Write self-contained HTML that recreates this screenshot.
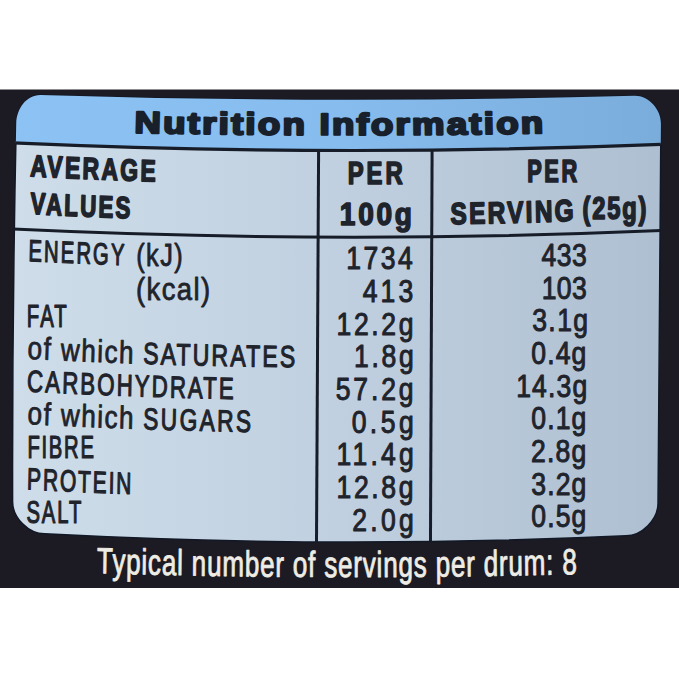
<!DOCTYPE html>
<html><head><meta charset="utf-8"><style>html,body{margin:0;padding:0;background:#fff;width:679px;height:679px;overflow:hidden}svg{display:block}</style></head>
<body>
<svg width="679" height="679" viewBox="0 0 679 679">
<defs>
<linearGradient id="gp" x1="0" y1="0" x2="1" y2="0">
<stop offset="0" stop-color="rgb(206,221,233)"/><stop offset="0.5" stop-color="rgb(192,208,224)"/><stop offset="1" stop-color="rgb(174,191,209)"/>
</linearGradient>
<linearGradient id="gh" x1="0" y1="0" x2="1" y2="0">
<stop offset="0" stop-color="rgb(140,195,244)"/><stop offset="0.5" stop-color="rgb(134,188,238)"/><stop offset="1" stop-color="rgb(122,172,218)"/>
</linearGradient>
<clipPath id="cp"><path d="M16.24 122.88 C16.74 108.88 26.20 94.88 40.20 94.88 Q337.55 104.21 634.90 95.85 C648.90 95.85 661.21 109.85 660.91 123.85 L658.01 503.71 C657.71 519.71 642.00 535.71 626.00 535.71 Q335.30 549.15 44.60 533.86 C28.60 533.86 12.59 517.86 12.59 501.86 Q12.22 312.37 16.24 122.88 Z"/></clipPath>
<path id="tp_title" d="M86.87 131.97 Q282.35 137.48 477.84 132.64"/><path id="tp_avg" d="M-0.12 174.58 Q122.98 179.94 246.07 182.49"/><path id="tp_val" d="M0.51 212.21 Q109.58 216.82 218.65 219.34"/><path id="tp_serv1" d="M522.47 224.54 Q636.38 223.54 750.29 219.81"/><path id="tp_lab0_0" d="M-2.59 259.24 Q114.69 263.76 231.97 266.30"/><path id="tp_lab3_0" d="M-3.46 357.12 Q97.62 361.96 198.70 364.54"/><path id="tp_lab3_1" d="M148.76 362.77 Q288.35 366.93 427.93 367.43"/><path id="tp_lab4_0" d="M-4.26 389.76 Q178.10 397.52 360.47 399.49"/><path id="tp_lab5_0" d="M-3.46 422.42 Q97.62 427.26 198.70 429.84"/><path id="tp_lab5_1" d="M151.10 428.07 Q263.39 431.37 375.67 432.37"/><path id="tp_lab7_0" d="M-4.62 487.70 Q114.76 492.49 234.13 495.08"/><path id="tp_typ" d="M92.71 572.05 Q467.05 581.36 841.39 573.16"/>
</defs>
<rect x="0" y="0" width="679" height="679" fill="#ffffff"/>
<rect x="0" y="89.5" width="679" height="498.5" fill="rgb(28,27,35)"/>
<path d="M16.24 122.88 C16.74 108.88 26.20 94.88 40.20 94.88 Q337.55 104.21 634.90 95.85 C648.90 95.85 661.21 109.85 660.91 123.85 L658.01 503.71 C657.71 519.71 642.00 535.71 626.00 535.71 Q335.30 549.15 44.60 533.86 C28.60 533.86 12.59 517.86 12.59 501.86 Q12.22 312.37 16.24 122.88 Z" fill="url(#gp)" stroke="rgb(18,24,38)" stroke-width="1.5"/>
<g clip-path="url(#cp)">
<path d="M0 0 L679 0 L679 143.63 Q339.50 157.98 0.00 142.35 Z" fill="url(#gh)"/>
<path d="M0.00 142.35 Q339.50 157.98 679.00 143.63" fill="none" stroke="rgb(22,28,40)" stroke-width="3.2"/>
<path d="M0.00 228.43 Q339.50 245.25 679.00 229.81" fill="none" stroke="rgb(22,28,40)" stroke-width="3"/>
<path d="M318.6 150.42 L316.4 560" fill="none" stroke="rgb(22,28,40)" stroke-width="3"/>
<path d="M432.1 150.10 L430.4 560" fill="none" stroke="rgb(22,28,40)" stroke-width="3"/>
</g>
<g font-family='"Liberation Sans", sans-serif'>
<text font-size="30.5" font-weight="bold" fill="#18202c" stroke="#18202c" stroke-width="2.2" stroke-linejoin="round" transform="scale(1.2,1)"><textPath href="#tp_title" startOffset="25.00" textLength="340.97" lengthAdjust="spacing">Nutrition Information</textPath></text>
<text font-size="30.5" font-weight="bold" fill="#1f232b" stroke="#1f232b" stroke-width="1.6693893806202604" stroke-linejoin="round" transform="scale(0.7544330601092896,1)"><textPath href="#tp_avg" startOffset="39.76" textLength="166.66" lengthAdjust="spacing">AVERAGE</textPath></text>
<text font-size="30.5" font-weight="bold" fill="#1f232b" stroke="#1f232b" stroke-width="1.6937941065731403" stroke-linejoin="round" transform="scale(0.7328494556375924,1)"><textPath href="#tp_val" startOffset="40.94" textLength="136.27" lengthAdjust="spacing">VALUES</textPath></text>
<text x="445.02" y="184.06" font-size="30.5" font-weight="bold" fill="#1f232b" stroke="#1f232b" stroke-width="1.640103678096713" stroke-linejoin="round" transform="scale(0.781615925058548,1)" textLength="70.10" lengthAdjust="spacing">PER</text>
<text x="369.67" y="224.86" font-size="30.5" font-weight="bold" fill="#1f232b" stroke="#1f232b" stroke-width="1.5123437993454771" stroke-linejoin="round" transform="scale(0.9192527640106748,1)" textLength="78.46" lengthAdjust="spacing">100g</text>
<text x="737.70" y="181.58" font-size="30.5" font-weight="bold" fill="#1f232b" stroke="#1f232b" stroke-width="1.7152614835437885" stroke-linejoin="round" transform="scale(0.714620274339244,1)" textLength="70.10" lengthAdjust="spacing">PER</text>
<text font-size="30.5" font-weight="bold" fill="#1f232b" stroke="#1f232b" stroke-width="1.6161553608717765" stroke-linejoin="round" transform="scale(0.804951641211397,1)"><textPath href="#tp_serv1" startOffset="37.27" textLength="153.28" lengthAdjust="spacing">SERVING</textPath></text>
<text x="750.55" y="219.37" font-size="30.5" font-weight="bold" fill="#1f232b" stroke="#1f232b" stroke-width="1.6459019922636793" stroke-linejoin="round" transform="scale(0.776118548213901,1)" textLength="82.40" lengthAdjust="spacing">(25g)</text>
<text font-size="30.5" font-weight="normal" fill="#1f232b" stroke="#1f232b" stroke-width="1.2262265869550504" stroke-linejoin="round" transform="scale(0.6650565016711762,1)"><textPath href="#tp_lab0_0" startOffset="45.11" textLength="144.34" lengthAdjust="spacing">ENERGY</textPath></text>
<text x="171.13" y="266.46" font-size="31.8" font-weight="normal" fill="#1f232b" stroke="#1f232b" stroke-width="0.8407560108295142" stroke-linejoin="round" transform="scale(0.7957608429306544,1)" textLength="58.42" lengthAdjust="spacing">(kJ)</text>
<text x="157.75" y="299.53" font-size="31.8" font-weight="normal" fill="#1f232b" stroke="#1f232b" stroke-width="0.8075842755362143" stroke-linejoin="round" transform="scale(0.8624756018217309,1)" textLength="85.93" lengthAdjust="spacing">(kcal)</text>
<text x="40.08" y="327.19" font-size="30.5" font-weight="normal" fill="#1f232b" stroke="#1f232b" stroke-width="1.2235371550231147" stroke-linejoin="round" transform="scale(0.6679834090460203,1)" textLength="59.92" lengthAdjust="spacing">FAT</text>
<text font-size="31.8" font-weight="normal" fill="#1f232b" stroke="#1f232b" stroke-width="0.8268150871904777" stroke-linejoin="round" transform="scale(0.8228217087131651,1)"><textPath href="#tp_lab3_0" startOffset="36.46" textLength="129.24" lengthAdjust="spacing">of which</textPath></text>
<text font-size="30.5" font-weight="normal" fill="#1f232b" stroke="#1f232b" stroke-width="1.1471508428187531" stroke-linejoin="round" transform="scale(0.7599043715846995,1)"><textPath href="#tp_lab3_1" startOffset="39.48" textLength="200.22" lengthAdjust="spacing">SATURATES</textPath></text>
<text font-size="30.5" font-weight="normal" fill="#1f232b" stroke="#1f232b" stroke-width="1.168947389471798" stroke-linejoin="round" transform="scale(0.7318297650340109,1)"><textPath href="#tp_lab4_0" startOffset="40.99" textLength="282.74" lengthAdjust="spacing">CARBOHYDRATE</textPath></text>
<text font-size="31.8" font-weight="normal" fill="#1f232b" stroke="#1f232b" stroke-width="0.8268150871904777" stroke-linejoin="round" transform="scale(0.8228217087131651,1)"><textPath href="#tp_lab5_0" startOffset="36.46" textLength="129.24" lengthAdjust="spacing">of which</textPath></text>
<text font-size="30.5" font-weight="normal" fill="#1f232b" stroke="#1f232b" stroke-width="1.1560642255226241" stroke-linejoin="round" transform="scale(0.7482316516492677,1)"><textPath href="#tp_lab5_1" startOffset="40.09" textLength="144.38" lengthAdjust="spacing">SUGARS</textPath></text>
<text x="41.35" y="458.45" font-size="30.5" font-weight="normal" fill="#1f232b" stroke="#1f232b" stroke-width="1.2288234301444247" stroke-linejoin="round" transform="scale(0.6622485757470062,1)" textLength="100.45" lengthAdjust="spacing">FIBRE</text>
<text font-size="30.5" font-weight="normal" fill="#1f232b" stroke="#1f232b" stroke-width="1.204484520642982" stroke-linejoin="round" transform="scale(0.6892829783974259,1)"><textPath href="#tp_lab7_0" startOffset="43.52" textLength="151.70" lengthAdjust="spacing">PROTEIN</textPath></text>
<text x="39.80" y="523.42" font-size="30.5" font-weight="normal" fill="#1f232b" stroke="#1f232b" stroke-width="1.2280561347651182" stroke-linejoin="round" transform="scale(0.66307638646669,1)" textLength="82.88" lengthAdjust="spacing">SALT</text>
<text x="397.90" y="269.49" font-size="30.5" font-weight="normal" fill="#1f232b" stroke="#1f232b" stroke-width="1.0" stroke-linejoin="round" transform="scale(0.87,1)" textLength="76.60" lengthAdjust="spacing">1734</text>
<text x="416.98" y="302.11" font-size="30.5" font-weight="normal" fill="#1f232b" stroke="#1f232b" stroke-width="1.0" stroke-linejoin="round" transform="scale(0.87,1)" textLength="57.95" lengthAdjust="spacing">413</text>
<text x="386.76" y="334.81" font-size="30.5" font-weight="normal" fill="#1f232b" stroke="#1f232b" stroke-width="1.0" stroke-linejoin="round" transform="scale(0.87,1)" textLength="88.60" lengthAdjust="spacing">12.2g</text>
<text x="406.99" y="367.43" font-size="30.5" font-weight="normal" fill="#1f232b" stroke="#1f232b" stroke-width="1.0" stroke-linejoin="round" transform="scale(0.87,1)" textLength="68.49" lengthAdjust="spacing">1.8g</text>
<text x="385.91" y="400.12" font-size="30.5" font-weight="normal" fill="#1f232b" stroke="#1f232b" stroke-width="1.0" stroke-linejoin="round" transform="scale(0.87,1)" textLength="89.45" lengthAdjust="spacing">57.2g</text>
<text x="404.18" y="432.73" font-size="30.5" font-weight="normal" fill="#1f232b" stroke="#1f232b" stroke-width="1.0" stroke-linejoin="round" transform="scale(0.87,1)" textLength="71.29" lengthAdjust="spacing">0.5g</text>
<text x="386.76" y="465.41" font-size="30.5" font-weight="normal" fill="#1f232b" stroke="#1f232b" stroke-width="1.0" stroke-linejoin="round" transform="scale(0.87,1)" textLength="88.78" lengthAdjust="spacing">11.4g</text>
<text x="386.76" y="498.06" font-size="30.5" font-weight="normal" fill="#1f232b" stroke="#1f232b" stroke-width="1.0" stroke-linejoin="round" transform="scale(0.87,1)" textLength="88.60" lengthAdjust="spacing">12.8g</text>
<text x="404.91" y="530.68" font-size="30.5" font-weight="normal" fill="#1f232b" stroke="#1f232b" stroke-width="1.0" stroke-linejoin="round" transform="scale(0.87,1)" textLength="70.56" lengthAdjust="spacing">2.0g</text>
<text x="622.49" y="265.96" font-size="30.5" font-weight="normal" fill="#1f232b" stroke="#1f232b" stroke-width="1.0" stroke-linejoin="round" transform="scale(0.87,1)" textLength="51.86" lengthAdjust="spacing">433</text>
<text x="622.73" y="298.58" font-size="30.5" font-weight="normal" fill="#1f232b" stroke="#1f232b" stroke-width="1.0" stroke-linejoin="round" transform="scale(0.87,1)" textLength="51.62" lengthAdjust="spacing">103</text>
<text x="611.77" y="331.40" font-size="30.5" font-weight="normal" fill="#1f232b" stroke="#1f232b" stroke-width="1.0" stroke-linejoin="round" transform="scale(0.87,1)" textLength="64.16" lengthAdjust="spacing">3.1g</text>
<text x="610.73" y="364.09" font-size="30.5" font-weight="normal" fill="#1f232b" stroke="#1f232b" stroke-width="1.0" stroke-linejoin="round" transform="scale(0.87,1)" textLength="63.25" lengthAdjust="spacing">0.4g</text>
<text x="593.31" y="396.96" font-size="30.5" font-weight="normal" fill="#1f232b" stroke="#1f232b" stroke-width="1.0" stroke-linejoin="round" transform="scale(0.87,1)" textLength="81.59" lengthAdjust="spacing">14.3g</text>
<text x="610.73" y="429.39" font-size="30.5" font-weight="normal" fill="#1f232b" stroke="#1f232b" stroke-width="1.0" stroke-linejoin="round" transform="scale(0.87,1)" textLength="63.25" lengthAdjust="spacing">0.1g</text>
<text x="610.43" y="462.04" font-size="30.5" font-weight="normal" fill="#1f232b" stroke="#1f232b" stroke-width="1.0" stroke-linejoin="round" transform="scale(0.87,1)" textLength="63.55" lengthAdjust="spacing">2.8g</text>
<text x="610.73" y="494.69" font-size="30.5" font-weight="normal" fill="#1f232b" stroke="#1f232b" stroke-width="1.0" stroke-linejoin="round" transform="scale(0.87,1)" textLength="63.25" lengthAdjust="spacing">3.2g</text>
<text x="610.73" y="527.34" font-size="30.5" font-weight="normal" fill="#1f232b" stroke="#1f232b" stroke-width="1.0" stroke-linejoin="round" transform="scale(0.87,1)" textLength="63.25" lengthAdjust="spacing">0.5g</text>
<text font-size="36.2" font-weight="normal" fill="#eeece4" stroke="#eeece4" stroke-width="0.8830242081149224" stroke-linejoin="round" transform="scale(0.7214019417226532,1)"><textPath href="#tp_typ" startOffset="41.59" textLength="665.51" lengthAdjust="spacing">Typical number of servings per drum: 8</textPath></text>
</g>
</svg>
</body></html>
